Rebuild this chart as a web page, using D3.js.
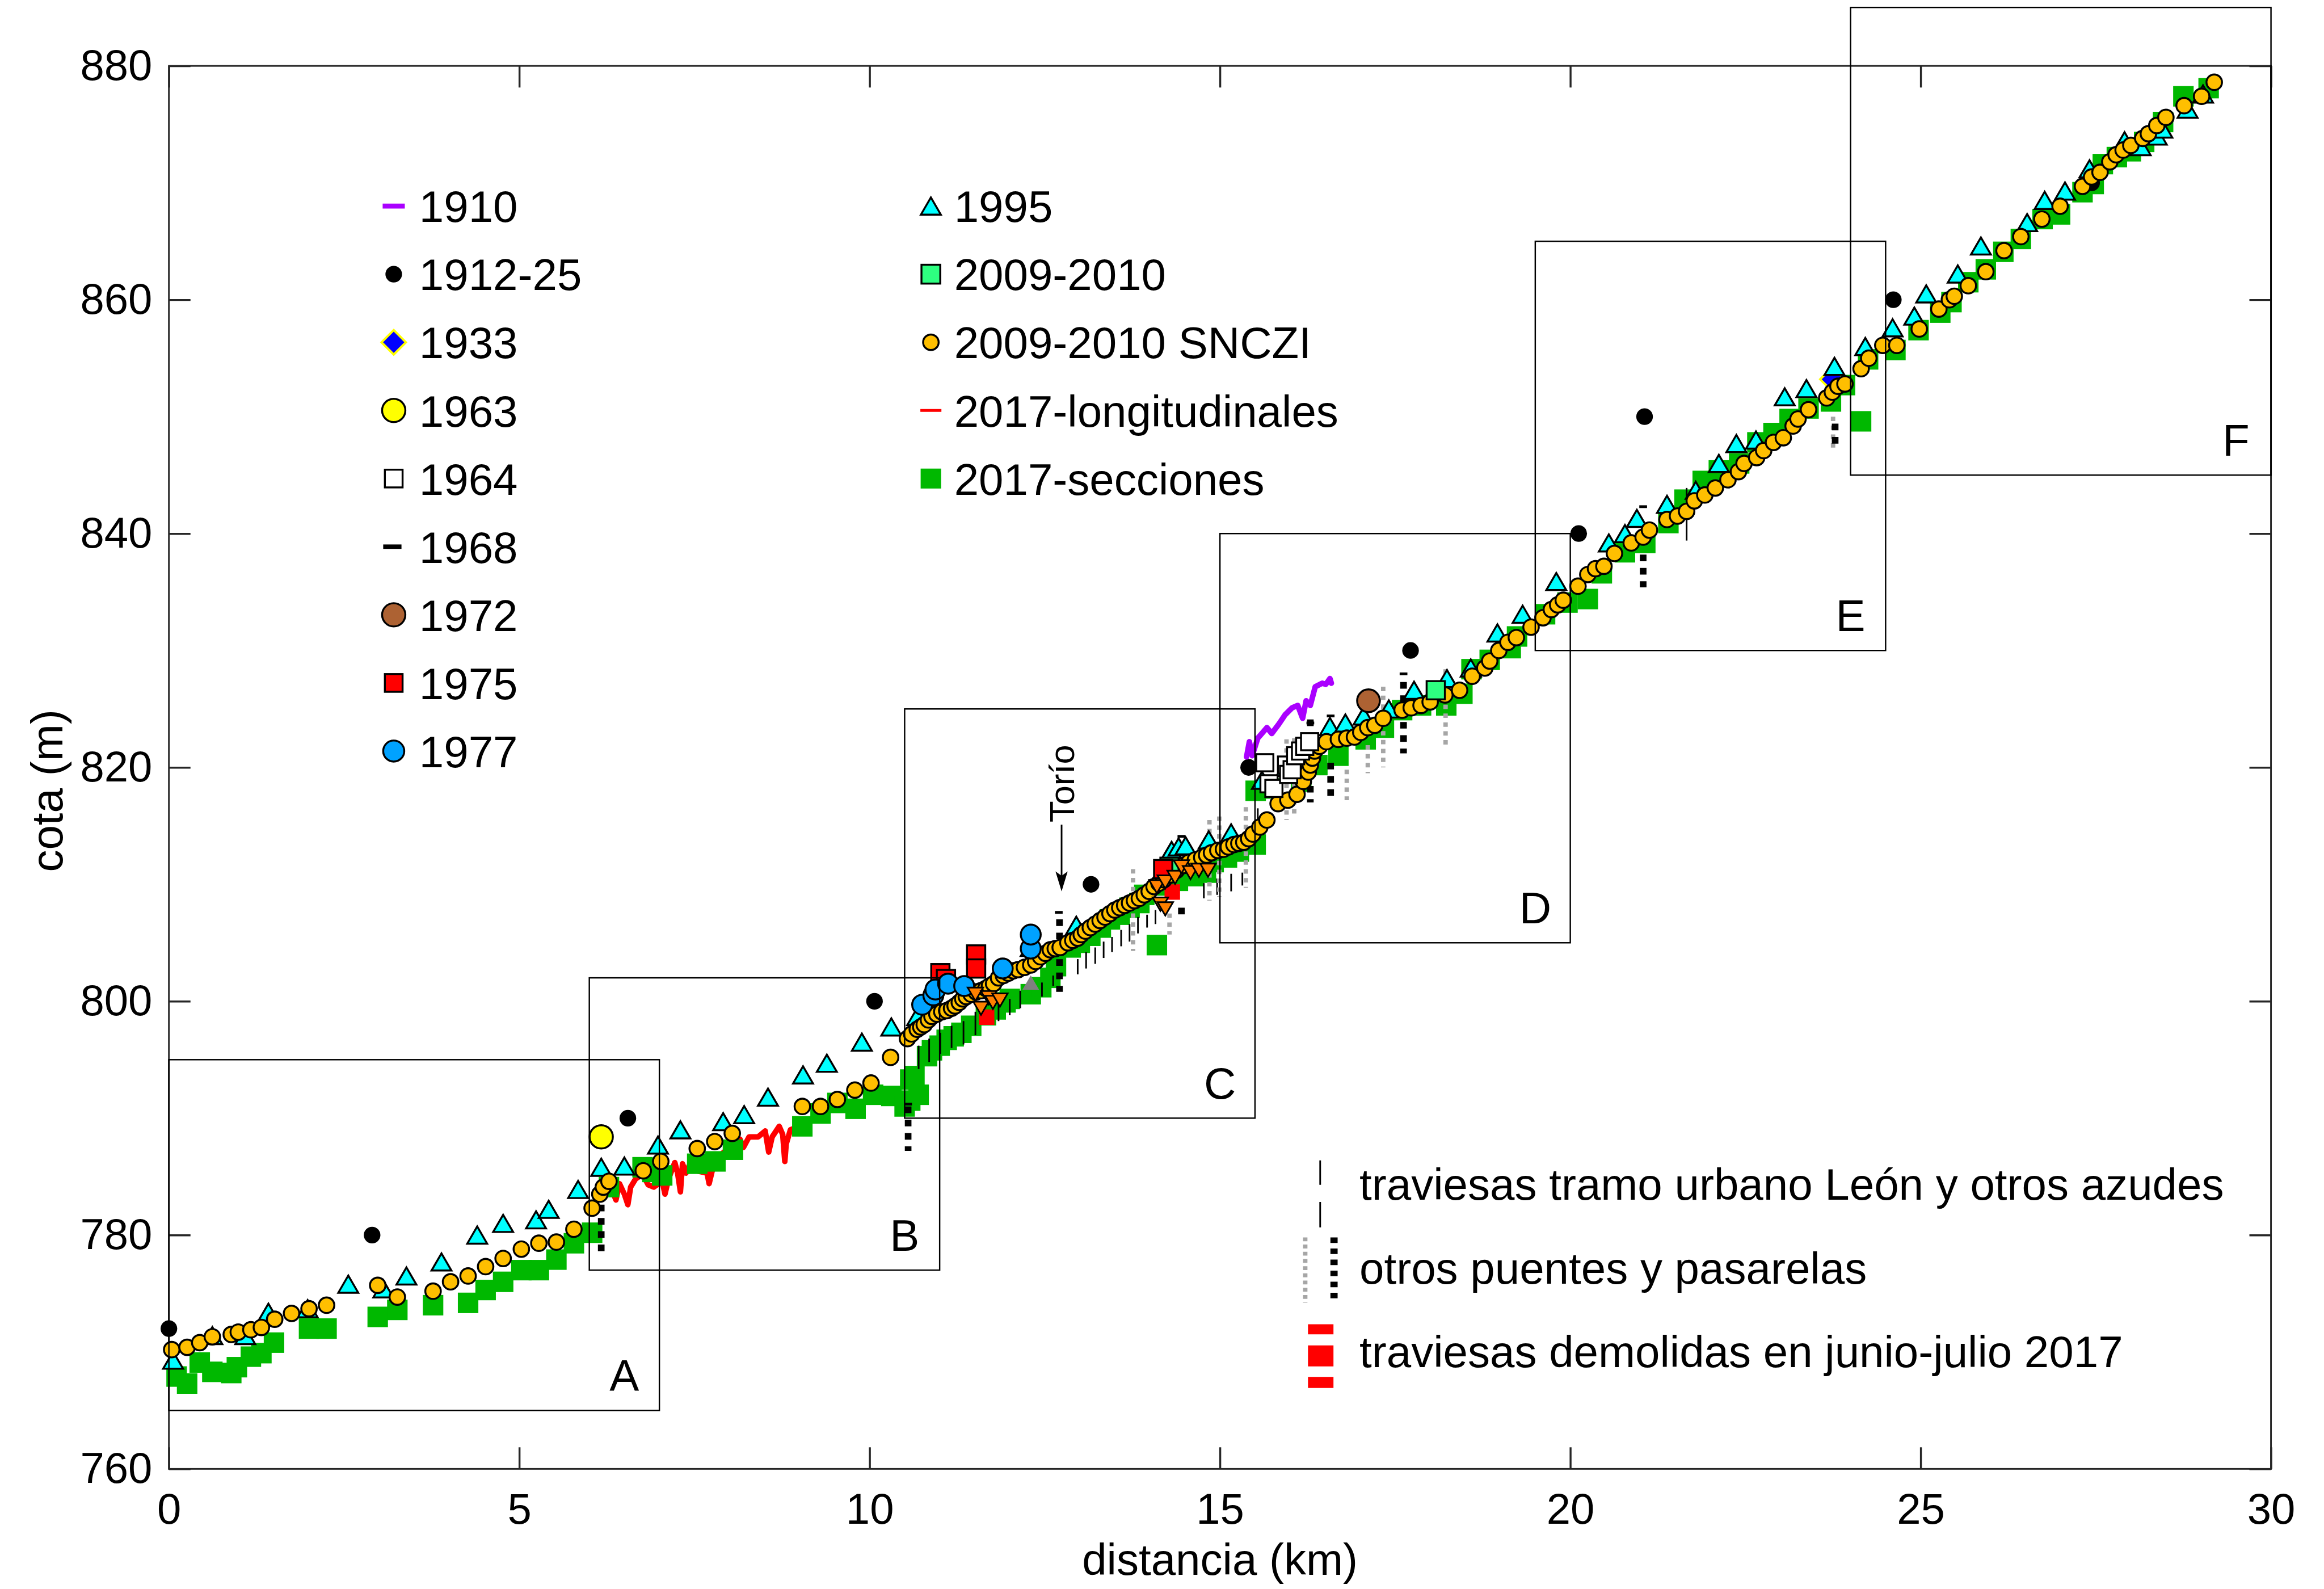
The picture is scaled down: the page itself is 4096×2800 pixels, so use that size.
<!DOCTYPE html>
<html>
<head>
<meta charset="UTF-8">
<title>Perfil longitudinal</title>
<script src="https://cdn.jsdelivr.net/npm/d3@7"></script>
<style>
body { margin: 0; background: #fff; }
text { font-family: "Liberation Sans", Arial, sans-serif; fill: #000; }
</style>
</head>
<body>
<script>

// ---- data: [distancia km, cota m] ----
var perfil1910 = [[15.38,820.9],[15.42,822.2],[15.46,821.0],[15.54,822.5],[15.67,823.4],[15.74,822.9],[15.84,823.7],[15.93,824.5],[16.03,825.1],[16.11,825.3],[16.18,824.2],[16.23,825.7],[16.29,825.3],[16.36,826.9],[16.46,827.2],[16.51,827.1],[16.57,827.6],[16.59,827.2]];

var puntos1912 = [[0.0,772],[2.9,780],[6.55,790],[10.07,800],[13.16,810],[15.41,820],[17.72,830],[20.12,840],[21.06,850],[24.61,860],[27.44,870]];
var puntos1933 = [[23.74,853.2]];
var puntos1963 = [[6.17,788.4]];
var puntos1964 = [[15.64,820.4],[15.7,818.6],[15.77,818.2],[15.95,820.2],[15.98,819.4],[16.03,819.8],[16.08,821.0],[16.15,821.4],[16.21,821.8],[16.28,822.2]];
var puntos1968 = [[10.55,791.2],[12.7,807.6],[14.45,814.1],[16.29,823.8],[16.58,824.4],[17.62,828.0],[21.04,842.3]];
var puntos1972 = [[17.12,825.7]];
var puntos1975 = [[11.01,802.4],[11.09,801.9],[11.52,804.0],[11.52,802.8],[14.19,811.3]];
var puntos1977 = [[10.75,799.7],[10.91,800.5],[10.94,801.0],[11.12,801.5],[11.35,801.3],[11.9,802.8],[12.3,804.5],[12.3,805.7]];

var puntos1995 = [[0.06,769.3],[0.62,771.4],[1.09,771.4],[1.42,773.4],[1.98,773.7],[2.56,775.8],[3.06,775.4],[3.39,776.5],[3.89,777.7],[4.4,780.0],[4.77,781.0],[5.24,781.3],[5.42,782.2],[5.84,783.9],[6.17,785.8],[6.5,785.9],[6.98,787.7],[7.3,789.0],[7.91,789.7],[8.21,790.3],[8.55,791.8],[9.05,793.7],[9.39,794.7],[9.89,796.5],[10.31,797.8],[10.68,798.7],[12.3,804.6],[12.95,806.5],[14.31,812.9],[14.41,813.2],[14.51,813.3],[14.84,813.8],[15.16,814.4],[15.6,818.9],[15.95,820.0],[16.57,823.5],[16.79,823.8],[17.05,824.4],[17.41,825.0],[17.77,826.6],[18.24,827.6],[18.58,828.5],[18.96,831.5],[19.32,833.1],[19.8,835.9],[20.55,839.2],[20.78,840.0],[20.95,841.3],[21.38,842.5],[21.79,843.7],[22.12,846.0],[22.37,847.7],[22.65,848.0],[23.06,851.7],[23.37,852.4],[23.77,854.3],[24.21,856.0],[24.6,857.6],[24.91,858.6],[25.08,860.5],[25.53,862.2],[25.86,864.6],[26.52,866.6],[26.77,868.5],[27.06,869.3],[27.41,871.2],[27.91,873.6],[28.14,873.1],[28.37,874.0],[28.45,874.6],[28.81,876.3],[29.03,877.6]];

var puntos2009 = [[14.28,811.5],[18.08,826.6]];

var snczi2009 = [[0.04,770.2],[0.26,770.4],[0.44,770.8],[0.62,771.3],[0.89,771.5],[0.99,771.7],[1.17,771.9],[1.32,772.1],[1.51,772.8],[1.75,773.3],[2.0,773.7],[2.25,774.0],[2.98,775.7],[3.26,774.7],[3.77,775.2],[4.02,776.0],[4.27,776.5],[4.52,777.3],[4.77,778.0],[5.03,778.8],[5.28,779.3],[5.53,779.4],[5.78,780.5],[6.04,782.3],[6.15,783.5],[6.2,784.1],[6.28,784.6],[6.77,785.5],[7.02,786.3],[7.54,787.4],[7.79,788.0],[8.04,788.7],[9.04,791.0],[9.3,791.0],[9.54,791.6],[9.79,792.4],[10.02,793.0],[10.3,795.2],[10.54,796.8],[10.6,797.2],[10.68,797.6],[10.73,797.8],[10.78,798.0],[10.84,798.4],[10.89,798.7],[10.96,798.9],[11.03,799.1],[11.1,799.2],[11.17,799.4],[11.22,799.6],[11.28,799.9],[11.33,800.2],[11.38,800.4],[11.45,800.6],[11.52,800.8],[11.59,800.9],[11.66,801.1],[11.71,801.3],[11.77,801.5],[11.84,802.0],[11.91,802.2],[11.98,802.4],[12.05,802.6],[12.12,802.7],[12.21,802.9],[12.3,803.1],[12.37,803.4],[12.44,803.8],[12.51,804.1],[12.58,804.4],[12.65,804.5],[12.72,804.6],[12.83,805.0],[12.9,805.2],[12.97,805.4],[13.02,805.7],[13.08,806.0],[13.15,806.3],[13.22,806.6],[13.29,806.9],[13.36,807.2],[13.43,807.5],[13.5,807.8],[13.57,808.0],[13.64,808.2],[13.71,808.4],[13.78,808.6],[13.85,808.8],[13.92,809.1],[13.99,809.4],[14.06,809.8],[14.13,810.1],[14.2,810.4],[14.29,810.8],[14.38,811.2],[14.47,811.6],[14.56,811.9],[14.65,812.1],[14.74,812.3],[14.81,812.5],[14.88,812.7],[14.97,812.9],[15.05,813.0],[15.12,813.2],[15.2,813.4],[15.27,813.5],[15.34,813.6],[15.41,813.9],[15.47,814.3],[15.57,814.9],[15.67,815.5],[15.83,816.9],[15.97,817.2],[16.1,817.7],[16.19,818.8],[16.26,819.6],[16.29,820.2],[16.32,820.8],[16.35,821.4],[16.42,821.8],[16.52,822.2],[16.69,822.4],[16.81,822.5],[16.92,822.6],[17.01,823.0],[17.11,823.4],[17.21,823.6],[17.33,824.2],[17.6,824.9],[17.73,825.1],[17.87,825.3],[18.0,825.6],[18.21,826.2],[18.42,826.6],[18.6,827.8],[18.78,828.5],[18.85,829.1],[18.98,830.0],[19.11,830.7],[19.23,831.1],[19.44,832.0],[19.61,832.8],[19.73,833.5],[19.82,833.9],[19.9,834.3],[20.11,835.5],[20.25,836.5],[20.36,837.0],[20.48,837.2],[20.63,838.3],[20.87,839.2],[21.04,839.7],[21.13,840.3],[21.38,841.2],[21.53,841.5],[21.66,841.9],[21.77,842.8],[21.92,843.3],[22.07,843.9],[22.25,844.6],[22.4,845.3],[22.48,846.0],[22.66,846.5],[22.76,847.1],[22.9,847.8],[23.04,848.2],[23.18,849.2],[23.25,849.8],[23.4,850.6],[23.66,851.6],[23.74,852.1],[23.82,852.6],[23.92,852.8],[24.15,854.1],[24.26,855.0],[24.46,856.1],[24.66,856.1],[24.98,857.5],[25.26,859.2],[25.41,860.0],[25.48,860.3],[25.68,861.2],[25.93,862.4],[26.19,864.2],[26.43,865.4],[26.73,866.9],[26.99,868.0],[27.31,869.7],[27.44,870.5],[27.56,870.9],[27.7,871.8],[27.79,872.4],[27.89,872.8],[28.0,873.2],[28.17,873.8],[28.25,874.2],[28.37,874.9],[28.5,875.6],[28.76,876.6],[29.01,877.4],[29.19,878.6]];

var longitudinal2017 = [[6.3,784.2],[6.38,783.0],[6.43,784.4],[6.5,783.5],[6.55,782.6],[6.59,784.1],[6.66,784.8],[6.76,785.2],[6.84,784.3],[6.92,784.1],[7.04,784.6],[7.08,783.5],[7.13,784.8],[7.22,786.2],[7.26,785.3],[7.3,783.7],[7.33,786.1],[7.38,785.3],[7.46,786.4],[7.53,785.5],[7.68,785.3],[7.71,784.4],[7.79,786.4],[7.92,787.1],[8.05,787.5],[8.15,788.2],[8.2,787.5],[8.28,788.4],[8.41,788.4],[8.51,788.9],[8.56,787.1],[8.61,788.4],[8.71,789.3],[8.76,788.6],[8.79,786.3],[8.81,787.8],[8.87,789.0],[9.0,789.3]];

var secciones2017 = [[0.11,767.9],[0.26,767.3],[0.44,769.1],[0.62,768.3],[0.89,768.2],[0.97,768.7],[1.17,769.6],[1.32,769.9],[1.5,770.8],[2.0,772.0],[2.25,772.0],[2.98,773.0],[3.26,773.6],[3.77,774.0],[4.27,774.2],[4.52,775.3],[4.77,776.0],[5.03,777.0],[5.28,777.0],[5.53,777.9],[5.78,779.3],[6.04,780.2],[6.28,784.1],[6.76,785.8],[6.9,785.4],[7.04,785.1],[7.54,786.1],[7.8,786.3],[8.05,787.3],[9.04,789.3],[9.3,790.4],[9.54,791.3],[9.8,790.8],[10.05,792.0],[10.31,791.9],[10.5,791.0],[10.58,793.3],[10.58,791.5],[10.64,793.6],[10.7,792.0],[10.82,795.3],[10.89,795.8],[11.0,796.2],[11.1,796.7],[11.2,797.0],[11.31,797.3],[11.45,797.9],[11.66,798.8],[11.8,799.3],[11.94,799.9],[12.0,800.2],[12.3,800.6],[12.45,801.2],[12.58,802.0],[12.66,803.0],[12.87,804.6],[13.0,805.0],[13.15,805.6],[13.3,806.3],[13.43,807.0],[13.57,807.4],[13.71,808.0],[13.85,808.4],[13.92,809.1],[14.1,804.8],[14.2,809.9],[14.4,810.3],[14.63,810.7],[14.8,811.0],[14.91,811.9],[15.1,812.3],[15.27,812.8],[15.51,813.4],[15.51,818.0],[15.7,818.2],[16.16,818.8],[16.39,820.2],[16.69,821.0],[17.08,822.4],[17.34,823.4],[17.6,824.9],[17.87,825.3],[18.23,825.3],[18.46,826.3],[18.59,828.4],[18.85,829.2],[19.15,830.2],[19.24,831.2],[19.64,833.1],[19.96,834.1],[20.25,834.4],[20.45,836.6],[20.78,838.4],[21.07,839.2],[21.4,840.9],[21.63,842.9],[21.89,844.5],[22.12,845.4],[22.41,846.0],[22.67,847.8],[22.9,848.6],[23.13,849.8],[23.4,850.7],[23.72,851.3],[23.92,852.7],[24.15,849.6],[24.25,854.9],[24.64,855.7],[24.97,857.4],[25.28,858.9],[25.44,859.8],[25.68,861.5],[25.93,862.6],[26.18,864.1],[26.43,865.2],[26.74,866.9],[26.99,867.3],[27.31,869.2],[27.47,869.9],[27.6,871.6],[27.8,872.2],[28.0,872.7],[28.19,873.5],[28.46,875.2],[28.75,877.4],[29.11,878.1]];

// unlabelled extra markers
var trianguloNaranja = [[11.51,800.6],[11.59,799.4],[11.7,800.3],[11.76,799.9],[11.86,800.1],[14.1,809.8],[14.15,808.3],[14.22,807.9],[14.22,810.2],[14.36,810.6],[14.45,811.5],[14.58,811.0],[14.7,811.2],[14.83,811.2]];
var trianguloGris = [[12.3,801.6]];

// vertical structures: [km, cota arriba, cota abajo]
var traviesas = [[10.7,796.2,794.2],[10.85,796.8,794.8],[11.01,797.3,795.5],[11.17,797.9,796.0],[11.34,798.3,796.3],[11.51,799.1,797.1],[11.84,799.9,798.3],[12.0,800.2,798.8],[12.15,800.9,799.4],[12.46,801.6,800.4],[12.62,802.2,801.3],[12.97,803.6,802.3],[13.09,804.2,802.8],[13.22,804.6,803.2],[13.34,805.1,803.7],[13.46,805.5,804.2],[13.59,806.1,804.7],[13.71,806.6,805.1],[13.83,807.2,805.8],[13.96,807.4,806.3],[14.08,807.8,806.6],[14.77,810.1,808.8],[14.96,810.5,809.1],[15.16,810.9,809.4],[15.32,811.0,809.9],[15.54,816.5,813.9],[21.66,843.9,839.4]];
var puentesNegros = [[6.17,782.6,778.5],[10.55,791.0,787.2],[12.71,807.0,800.8],[14.45,808.0,807.0],[16.29,824.1,817.0],[16.58,820.4,817.5],[17.62,827.3,821.2],[21.04,838.2,835.4],[23.78,849.4,847.6]];
var puentesGrises = [[13.76,811.3,804.3],[14.28,807.5,805.7],[14.85,815.5,808.6],[14.99,815.8,808.9],[15.37,816.6,809.7],[15.95,822.4,815.5],[16.06,822.5,815.8],[16.81,819.8,817.2],[17.11,821.9,819.5],[17.33,826.9,820.0],[18.22,828.4,821.6],[23.75,850.0,847.2]];
var demolidas = [[11.67,799.3,797.8],[14.32,811.8,808.2]];

// zoom boxes
var boxLabels = ["A","B","C","D","E","F"];
var boxKm = [[0,7],[6,11],[10.5,15.5],[15,20],[19.5,24.5],[24,30]];
var boxCota = [[765,795],[777,802],[790,825],[805,840],[830,865],[845,885]];

var xTicks = [0,5,10,15,20,25,30];
var yTicks = [760,780,800,820,840,860,880];

var leyendaIzq = ["1910","1912-25","1933","1963","1964","1968","1972","1975","1977"];
var leyendaDer = ["1995","2009-2010","2009-2010 SNCZI","2017-longitudinales","2017-secciones"];
var leyendaEstructuras = ["traviesas tramo urbano León y otros azudes","otros puentes y pasarelas","traviesas demolidas en junio-julio 2017"];

// ---- drawing ----
var k = 0.976;
var svg = d3.select("body").append("svg")
	.attr("width", 4096)
	.attr("height", 2800);
var g = svg.append("g").attr("transform", "scale(" + k + ")");

var x = d3.scaleLinear().domain([0, 30]).range([305, 4101]);
var y = d3.scaleLinear().domain([760, 880]).range([2652, 119]);

var EDGE = 3.5;

function tri(w, h, down) {
	var s = down ? -1 : 1;
	return "M0," + (-s*h/2) + "L" + (w/2) + "," + (s*h/2) + "L" + (-w/2) + "," + (s*h/2) + "Z";
}

function circles(parent, data, r, fill, stroke) {
	parent.append("g").selectAll("circle").data(data).join("circle")
		.attr("cx", function(d) { return x(d[0]); })
		.attr("cy", function(d) { return y(d[1]); })
		.attr("r", r)
		.attr("fill", fill)
		.attr("stroke", stroke || "none")
		.attr("stroke-width", EDGE);
}
function squares(parent, data, s, fill, stroke) {
	parent.append("g").selectAll("rect").data(data).join("rect")
		.attr("x", function(d) { return x(d[0]) - s/2; })
		.attr("y", function(d) { return y(d[1]) - s/2; })
		.attr("width", s).attr("height", s)
		.attr("fill", fill)
		.attr("stroke", stroke || "none")
		.attr("stroke-width", EDGE);
}
function paths(parent, data, dstr, fill, stroke, sw) {
	parent.append("g").selectAll("path").data(data).join("path")
		.attr("transform", function(d) { return "translate(" + x(d[0]) + "," + y(d[1]) + ")"; })
		.attr("d", dstr)
		.attr("fill", fill)
		.attr("stroke", stroke || "none")
		.attr("stroke-width", sw || EDGE);
}
function vlines(parent, data, color, width, dash) {
	parent.append("g").selectAll("line").data(data).join("line")
		.attr("x1", function(d) { return x(d[0]); })
		.attr("x2", function(d) { return x(d[0]); })
		.attr("y1", function(d) { return y(d[1]); })
		.attr("y2", function(d) { return y(d[2]); })
		.attr("stroke", color)
		.attr("stroke-width", width)
		.attr("stroke-dasharray", dash || null);
}

var line = d3.line()
	.x(function(d) { return x(d[0]); })
	.y(function(d) { return y(d[1]); });

// axes: ticks inside on all four sides
var axisColor = "#262626";
function styleAxis(sel) {
	sel.select(".domain").remove();
	sel.selectAll(".tick line").attr("stroke", axisColor).attr("stroke-width", 3.5);
	sel.selectAll(".tick text").attr("font-size", 78).attr("font-family", "Liberation Sans, Arial, sans-serif").attr("fill", "#000");
}
g.append("g").attr("transform", "translate(0,2652)")
	.call(d3.axisBottom(x).tickValues(xTicks).tickSize(-39).tickPadding(44)).call(styleAxis);
g.append("g").attr("transform", "translate(0,119)")
	.call(d3.axisTop(x).tickValues(xTicks).tickSize(-39).tickFormat("")).call(styleAxis);
g.append("g").attr("transform", "translate(305,0)")
	.call(d3.axisLeft(y).tickValues(yTicks).tickSize(-39).tickPadding(30)).call(styleAxis);
g.append("g").attr("transform", "translate(4101,0)")
	.call(d3.axisRight(y).tickValues(yTicks).tickSize(-39).tickFormat("")).call(styleAxis);

g.append("rect")
	.attr("x", x(0)).attr("y", y(880))
	.attr("width", x(30) - x(0)).attr("height", y(760) - y(880))
	.attr("fill", "none").attr("stroke", axisColor).attr("stroke-width", 3);

g.append("text").attr("x", x(15)).attr("y", 2843)
	.attr("text-anchor", "middle").attr("font-size", 80).text("distancia (km)");
g.append("text").attr("transform", "translate(113," + y(818) + ") rotate(-90)")
	.attr("text-anchor", "middle").attr("font-size", 80).text("cota (m)");

// data layers
var plot = g.append("g");
plot.append("path").datum(longitudinal2017).attr("d", line)
	.attr("fill", "none").attr("stroke", "#FF0000").attr("stroke-width", 10)
	.attr("stroke-linejoin", "round").attr("stroke-linecap", "round");
squares(plot, secciones2017, 37, "#00B800");
vlines(plot, traviesas, "#000", 3);
vlines(plot, puentesGrises, "#A6A6A6", 8, "8,8");
vlines(plot, puentesNegros, "#000", 12, "12,12");
vlines(plot, demolidas, "#FF0000", 28, "28,10");
paths(plot, puntos1933, "M0,-22L22,0L0,22L-22,0Z", "#0000FF", "#FFFF00", 4);
circles(plot, puntos1912, 15, "#000");
paths(plot, puntos1995, tri(36, 31), "#00FFFF", "#000");
circles(plot, snczi2009, 14, "#FFBF00", "#000");
squares(plot, puntos2009, 33, "#2EFF80", "#000");
squares(plot, puntos1964, 31, "#FFFFFF", "#000");
paths(plot, puntos1968, "M-7,-2.5H7V2.5H-7Z", "#000");
squares(plot, puntos1975, 33, "#FF0000", "#000");
circles(plot, puntos1977, 18, "#00A2FF", "#000");
paths(plot, trianguloNaranja, tri(28, 24, true), "#FF8000", "#000", 3);
paths(plot, trianguloGris, tri(30, 26), "#808080");
circles(plot, puntos1963, 21, "#FFFF00", "#000");
circles(plot, puntos1972, 20.5, "#AD6233", "#000");
plot.append("path").datum(perfil1910).attr("d", line)
	.attr("fill", "none").attr("stroke", "#AA00FF").attr("stroke-width", 10)
	.attr("stroke-linejoin", "round").attr("stroke-linecap", "round");

// zoom boxes with letters
boxLabels.forEach(function(lab, i) {
	g.append("rect")
		.attr("x", x(boxKm[i][0])).attr("y", y(boxCota[i][1]))
		.attr("width", x(boxKm[i][1]) - x(boxKm[i][0]))
		.attr("height", y(boxCota[i][0]) - y(boxCota[i][1]))
		.attr("fill", "none").attr("stroke", "#000").attr("stroke-width", 2.5);
	g.append("text")
		.attr("x", x(boxKm[i][1] - 0.5)).attr("y", y(boxCota[i][0] + 1.65))
		.attr("text-anchor", "middle").attr("font-size", 80).text(lab);
});

// Torío arrow
g.append("line").attr("x1", x(12.74)).attr("x2", x(12.74))
	.attr("y1", y(815.1)).attr("y2", y(810.6))
	.attr("stroke", "#000").attr("stroke-width", 3);
g.append("path")
	.attr("transform", "translate(" + x(12.74) + "," + y(809.4) + ")")
	.attr("d", "M0,0L-11,-36L0,-28L11,-36Z").attr("fill", "#000");
g.append("text").attr("transform", "translate(" + x(12.917) + "," + y(815.3) + ") rotate(-90)")
	.attr("font-size", 63).text("Torío");

// legend, left column
var lx = 711, rx = 1681, ly0 = 372, lstep = 123;
var lg = g.append("g");
leyendaIzq.forEach(function(t, i) {
	lg.append("text").attr("x", 757).attr("y", ly0 + i*lstep + 29).attr("font-size", 80).text(t);
});
leyendaDer.forEach(function(t, i) {
	lg.append("text").attr("x", 1723).attr("y", ly0 + i*lstep + 29).attr("font-size", 80).text(t);
});
function ly(i) { return ly0 + i*lstep; }
lg.append("line").attr("x1", lx - 20).attr("x2", lx + 20).attr("y1", ly(0)).attr("y2", ly(0))
	.attr("stroke", "#AA00FF").attr("stroke-width", 9);
lg.append("circle").attr("cx", lx).attr("cy", ly(1)).attr("r", 15).attr("fill", "#000");
lg.append("path").attr("transform", "translate(" + lx + "," + ly(2) + ")")
	.attr("d", "M0,-22L22,0L0,22L-22,0Z").attr("fill", "#0000FF").attr("stroke", "#FFFF00").attr("stroke-width", 4);
lg.append("circle").attr("cx", lx).attr("cy", ly(3)).attr("r", 21).attr("fill", "#FFFF00").attr("stroke", "#000").attr("stroke-width", EDGE);
lg.append("rect").attr("x", lx - 16).attr("y", ly(4) - 16).attr("width", 32).attr("height", 32)
	.attr("fill", "#fff").attr("stroke", "#000").attr("stroke-width", EDGE);
lg.append("rect").attr("x", lx - 19).attr("y", ly(5) - 4).attr("width", 33).attr("height", 8).attr("fill", "#000");
lg.append("circle").attr("cx", lx).attr("cy", ly(6)).attr("r", 21).attr("fill", "#AD6233").attr("stroke", "#000").attr("stroke-width", EDGE);
lg.append("rect").attr("x", lx - 16).attr("y", ly(7) - 16).attr("width", 32).attr("height", 32)
	.attr("fill", "#FF0000").attr("stroke", "#000").attr("stroke-width", EDGE);
lg.append("circle").attr("cx", lx).attr("cy", ly(8)).attr("r", 19).attr("fill", "#00A2FF").attr("stroke", "#000").attr("stroke-width", EDGE);

// legend, right column
lg.append("path").attr("transform", "translate(" + rx + "," + ly(0) + ")").attr("d", tri(36, 31))
	.attr("fill", "#00FFFF").attr("stroke", "#000").attr("stroke-width", EDGE);
lg.append("rect").attr("x", rx - 17).attr("y", ly(1) - 17).attr("width", 34).attr("height", 34)
	.attr("fill", "#2EFF80").attr("stroke", "#000").attr("stroke-width", EDGE);
lg.append("circle").attr("cx", rx).attr("cy", ly(2)).attr("r", 14).attr("fill", "#FFBF00").attr("stroke", "#000").attr("stroke-width", EDGE);
lg.append("line").attr("x1", rx - 19).attr("x2", rx + 19).attr("y1", ly(3)).attr("y2", ly(3))
	.attr("stroke", "#FF0000").attr("stroke-width", 5);
lg.append("rect").attr("x", rx - 18.5).attr("y", ly(4) - 18).attr("width", 37).attr("height", 36).attr("fill", "#00B800");

// legend for structures
var sy = [2166, 2318, 2468];
leyendaEstructuras.forEach(function(t, i) {
	lg.append("text").attr("x", 2455).attr("y", sy[i]).attr("font-size", 80).text(t);
});
lg.append("line").attr("x1", 2384).attr("x2", 2384).attr("y1", 2095).attr("y2", 2216)
	.attr("stroke", "#000").attr("stroke-width", 3).attr("stroke-dasharray", "44,31,46");
lg.append("line").attr("x1", 2357).attr("x2", 2357).attr("y1", 2234).attr("y2", 2352)
	.attr("stroke", "#A6A6A6").attr("stroke-width", 8).attr("stroke-dasharray", "7,6");
lg.append("line").attr("x1", 2409).attr("x2", 2409).attr("y1", 2234).attr("y2", 2350)
	.attr("stroke", "#000").attr("stroke-width", 13).attr("stroke-dasharray", "10,10");
lg.append("line").attr("x1", 2385).attr("x2", 2385).attr("y1", 2391).attr("y2", 2506)
	.attr("stroke", "#FF0000").attr("stroke-width", 46).attr("stroke-dasharray", "18,20,38,19,20");

</script>
</body>
</html>
